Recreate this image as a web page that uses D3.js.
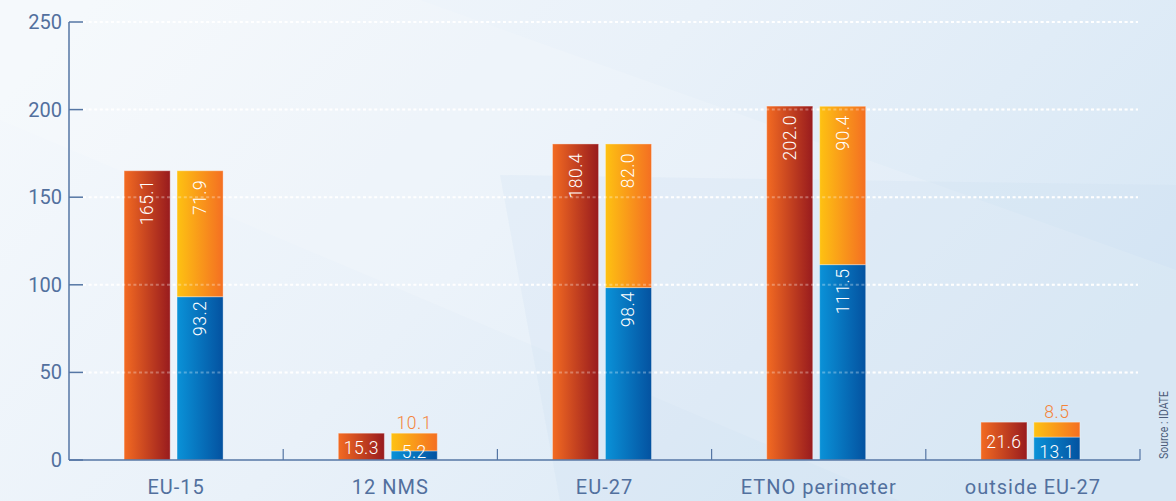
<!DOCTYPE html>
<meta charset="utf-8">
<style>
body { margin: 0; }
svg text { font-family: Roboto, "DejaVu Sans", sans-serif; }
.axis-label { font-size: 20px; fill: #52709e; letter-spacing: 1px; }
.tick-label { font-size: 20px; fill: #52709e; }
.val { font-size: 17.5px; fill: #fff; letter-spacing: 0.5px; font-weight: 300; }
.val-top { font-size: 17.5px; fill: #f4843a; letter-spacing: 0.5px; font-weight: 300; }
</style>
<svg class="chart" width="1176" height="501"></svg>
<script src="https://d3js.org/d3.v7.min.js"></script>
<script>

var categories = ["EU-15", "12 NMS", "EU-27", "ETNO perimeter", "outside EU-27"];
var totalValues = [165.1, 15.3, 180.4, 202.0, 21.6];
var blueValues = [93.2, 5.2, 98.4, 111.5, 13.1];
var orangeValues = [71.9, 10.1, 82.0, 90.4, 8.5];
var yTicks = [0, 50, 100, 150, 200, 250];

var svg = d3.select("svg.chart");
var defs = svg.append("defs");

function grad(id, c1, c2) {
  var g = defs.append("linearGradient").attr("id", id)
    .attr("x1", 0).attr("x2", 1).attr("y1", 0).attr("y2", 0);
  g.append("stop").attr("offset", "0%").attr("stop-color", c1);
  g.append("stop").attr("offset", "100%").attr("stop-color", c2);
}
grad("gRed", "#f36b22", "#981b1e");
grad("gOrange", "#fec212", "#f46f22");
grad("gBlue", "#0a92d8", "#0452a0");

var bg = defs.append("linearGradient").attr("id", "gBg")
  .attr("x1", 0).attr("x2", 1).attr("y1", 0.2).attr("y2", 0.6);
bg.append("stop").attr("offset", "0%").attr("stop-color", "#f4f8fc");
bg.append("stop").attr("offset", "45%").attr("stop-color", "#e9f1f9");
bg.append("stop").attr("offset", "100%").attr("stop-color", "#d7e7f5");

// background
svg.append("rect").attr("width", 1176).attr("height", 501).attr("fill", "url(#gBg)");
svg.append("path").attr("d", "M0,0 L420,0 L1176,270 L1176,501 L900,501 L0,120 Z")
  .attr("fill", "#ffffff").attr("opacity", 0.15);
svg.append("path").attr("d", "M500,175 L1176,185 L1176,501 L560,501 Z")
  .attr("fill", "#c8ddf0").attr("opacity", 0.2);

var x = d3.scaleBand().domain(categories).range([69, 1140]).padding(0);
var inner = d3.scaleBand().domain(["total", "split"]).range([-52, 47]).paddingInner(0.13);
var y = d3.scaleLinear().domain([0, 250]).range([460, 22]);

var data = categories.map(function(c, i) {
  return { cat: c, total: totalValues[i], blue: blueValues[i], orange: orangeValues[i] };
});

// grid under bars
var gridData = yTicks.filter(function(d) { return d > 0; });
function drawGrid(op) {
  svg.append("g").selectAll("line").data(gridData).enter().append("line")
    .attr("x1", 83).attr("x2", 1138)
    .attr("y1", function(d) { return y(d); }).attr("y2", function(d) { return y(d); })
    .attr("stroke", "#fff").attr("stroke-width", 2)
    .attr("stroke-dasharray", "3,2.6").attr("opacity", op);
}
drawGrid(1);

var groups = svg.append("g").selectAll("g").data(data).enter().append("g")
  .attr("transform", function(d) { return "translate(" + (x(d.cat) + x.bandwidth() / 2) + ",0)"; });

var bw = inner.bandwidth();

// red total bar
groups.append("rect")
  .attr("x", inner("total")).attr("width", bw)
  .attr("y", function(d) { return y(d.total); })
  .attr("height", function(d) { return y(0) - y(d.total); })
  .attr("fill", "url(#gRed)").attr("stroke", "#fff").attr("stroke-opacity", 0.35);

// blue segment
groups.append("rect")
  .attr("x", inner("split")).attr("width", bw)
  .attr("y", function(d) { return y(d.blue); })
  .attr("height", function(d) { return y(0) - y(d.blue); })
  .attr("fill", "url(#gBlue)").attr("stroke", "#fff").attr("stroke-opacity", 0.35);

// orange segment
groups.append("rect")
  .attr("x", inner("split")).attr("width", bw)
  .attr("y", function(d) { return y(d.blue + d.orange); })
  .attr("height", function(d) { return y(d.blue) - y(d.blue + d.orange); })
  .attr("fill", "url(#gOrange)").attr("stroke", "#fff").attr("stroke-opacity", 0.35);

// faint grid over bars
drawGrid(0.3);

var minVert = 45;

// red labels
groups.append("text")
  .attr("class", "val")
  .attr("text-anchor", function(d) { return y(0) - y(d.total) > minVert ? "end" : "middle"; })
  .attr("dominant-baseline", "central")
  .attr("transform", function(d) {
    var cx = inner("total") + bw / 2;
    if (y(0) - y(d.total) > minVert) return "translate(" + cx + "," + (y(d.total) + 9) + ") rotate(-90)";
    return "translate(" + cx + "," + ((y(0) + y(d.total)) / 2 + 1) + ")";
  })
  .text(function(d) { return d.total.toFixed(1); });

// blue labels
groups.append("text")
  .attr("class", "val")
  .attr("text-anchor", function(d) { return y(0) - y(d.blue) > minVert ? "end" : "middle"; })
  .attr("dominant-baseline", "central")
  .attr("transform", function(d) {
    var cx = inner("split") + bw / 2;
    if (y(0) - y(d.blue) > minVert) return "translate(" + cx + "," + (y(d.blue) + 4) + ") rotate(-90)";
    return "translate(" + cx + "," + (y(0) - 8) + ")";
  })
  .text(function(d) { return d.blue.toFixed(1); });

// orange labels
groups.append("text")
  .attr("class", function(d) { return y(d.blue) - y(d.blue + d.orange) > minVert ? "val" : "val-top"; })
  .attr("text-anchor", function(d) { return y(d.blue) - y(d.blue + d.orange) > minVert ? "end" : "middle"; })
  .attr("dominant-baseline", function(d) { return y(d.blue) - y(d.blue + d.orange) > minVert ? "central" : "auto"; })
  .attr("transform", function(d) {
    var cx = inner("split") + bw / 2;
    var top = y(d.blue + d.orange);
    if (y(d.blue) - top > minVert) return "translate(" + cx + "," + (top + 9) + ") rotate(-90)";
    return "translate(" + cx + "," + (top - 4) + ")";
  })
  .text(function(d) { return d.orange.toFixed(1); });

// axes
var axisColor = "#5576a4";
svg.append("line").attr("x1", 69).attr("x2", 69).attr("y1", y(250)).attr("y2", y(0))
  .attr("stroke", axisColor).attr("stroke-width", 1.5);
svg.append("line").attr("x1", 69).attr("x2", 1140).attr("y1", y(0)).attr("y2", y(0))
  .attr("stroke", axisColor).attr("stroke-width", 1.5);

var yt = svg.append("g").selectAll("g").data(yTicks).enter().append("g")
  .attr("transform", function(d) { return "translate(0," + y(d) + ")"; });
yt.append("line").attr("x1", 69).attr("x2", 83).attr("stroke", axisColor).attr("stroke-width", 1.5);
yt.append("text").attr("class", "tick-label").attr("x", 62).attr("text-anchor", "end")
  .attr("dominant-baseline", "central").text(function(d) { return d; });

// category separators
svg.append("g").selectAll("line").data(categories).enter().append("line")
  .attr("x1", function(d) { return x(d) + x.bandwidth(); })
  .attr("x2", function(d) { return x(d) + x.bandwidth(); })
  .attr("y1", y(0) - 11).attr("y2", y(0))
  .attr("stroke", axisColor).attr("stroke-width", 1.2);

svg.append("g").selectAll("text").data(categories).enter().append("text")
  .attr("class", "axis-label")
  .attr("x", function(d) { return x(d) + x.bandwidth() / 2; })
  .attr("y", 494).attr("text-anchor", "middle")
  .text(function(d) { return d; });

svg.append("text")
  .attr("transform", "translate(1168,459) rotate(-90)")
  .attr("font-size", 13).attr("fill", "#4d5d7a")
  .attr("textLength", 68).attr("lengthAdjust", "spacingAndGlyphs")
  .text("Source : IDATE");

</script>
